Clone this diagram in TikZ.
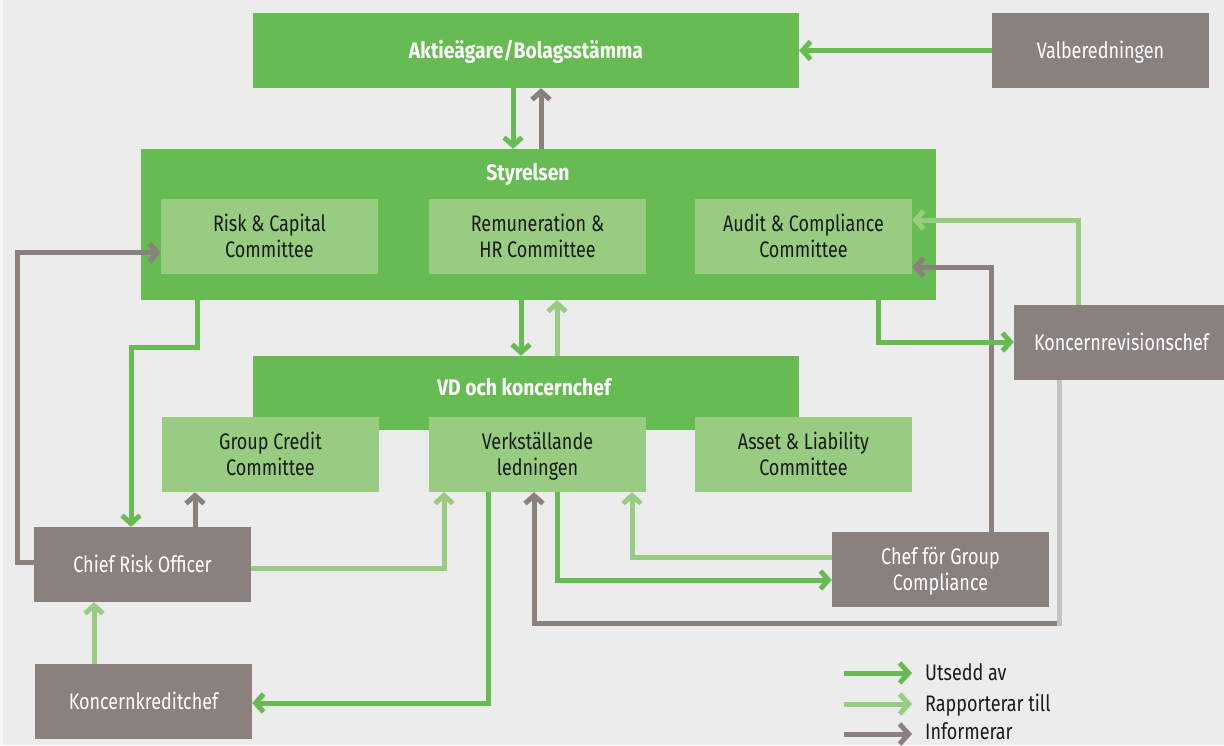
\documentclass[tikz,border=0pt]{standalone}
\usepackage{fontspec}
\setmainfont{Fira Sans}[FakeStretch=0.8]
\newfontfamily\titlefont{Fira Sans}[FakeStretch=0.86]
\usetikzlibrary{arrows.meta}
\newcommand\mystrut{\rule[-5pt]{0pt}{25.5pt}}
\definecolor{bg}{HTML}{EBECEB}
\definecolor{dgreen}{HTML}{66BC52}
\definecolor{lgreen}{HTML}{97CC81}
\definecolor{greybox}{HTML}{8A817E}
\definecolor{lgrey}{HTML}{C2C2C2}
\definecolor{txt}{HTML}{1A1A1A}
\tikzset{
  box/.style={inner sep=0pt, minimum width=217pt, minimum height=75pt, align=center,
    font=\fontsize{22.5}{26}\selectfont},
  mainbox/.style={box, fill=dgreen},
  subbox/.style={box, fill=lgreen, text=txt},
  greyb/.style={box, fill=greybox, text=white},
  title/.style={inner sep=0pt, text=white, font=\titlefont\fontsize{22.5}{26}\selectfont\bfseries},
  conn/.style={line width=5pt, -{Straight Barb[length=8pt,width=18pt]}},
  app/.style={conn, draw=dgreen},
  rep/.style={conn, draw=lgreen},
  inf/.style={conn, draw=greybox},
  leg/.style={line width=5pt, -{Straight Barb[length=9pt,width=20pt]}},
  legtext/.style={anchor=west, inner sep=0pt, text=txt, font=\fontsize{22.5}{26}\selectfont},
}
\begin{document}
\begin{tikzpicture}[x=1pt,y=-1pt]
\fill[bg] (0,0) rectangle (1224,745);
\fill[white!60!bg] (0,0) rectangle (3,745);
\useasboundingbox (0,0) rectangle (1224,745);
% top
\node[mainbox, minimum width=546pt, minimum height=75pt] (aga) at (526,50.5) {};
\node[title] (agat) at (526,51) {\mystrut Aktieägare/Bolagsstämma};
\node[greyb] (val) at (1100.5,50.5) {\mystrut Valberedningen};
% Styrelsen
\node[mainbox, minimum width=795pt, minimum height=151pt] (sty) at (538.5,224.5) {};
\node[title] (styt) at (528,173) {\mystrut Styrelsen};
\node[subbox] (rcc) at (269.5,236.5) {\mystrut Risk \& Capital\\\mystrut Committee};
\node[subbox] (rem) at (537.5,236.5) {\mystrut Remuneration \&\\\mystrut HR Committee};
\node[subbox] (acc) at (803.5,236.5) {\mystrut Audit \& Compliance\\\mystrut Committee};
% VD
\node[mainbox, minimum width=546pt, minimum height=74pt] (vd) at (526,393) {};
\node[title] (vdt) at (524,388) {\mystrut VD och koncernchef};
\node[subbox] (gcc) at (270.5,454.5) {\mystrut Group Credit\\\mystrut Committee};
\node[subbox] (verk) at (537.5,454.5) {\mystrut Verkställande\\\mystrut ledningen};
\node[subbox] (alc) at (803.5,454.5) {\mystrut Asset \& Liability\\\mystrut Committee};
% grey boxes
\node[greyb] (cro) at (142.5,564.5) {\mystrut Chief Risk Officer};
\node[greyb] (kkc) at (143.5,701.5) {\mystrut Koncernkreditchef};
\node[greyb, minimum width=210pt] (krc) at (1119,342.5) {\mystrut\hspace*{5pt}Koncernrevisionschef};
\node[greyb] (cgc) at (940.5,569.5) {\mystrut Chef för Group\\\mystrut Compliance};
% coordinates
\coordinate (k1) at (513,0);
\coordinate (k2) at (541,0);
\coordinate (m1) at (521,0);
\coordinate (m2) at (557,0);
\coordinate (L1) at (17,400);
\coordinate (b1) at (197,347);
\coordinate (b2) at (131,347);
\coordinate (c3) at (195,0);
\coordinate (c4) at (444,0);
\coordinate (c5) at (94,0);
\coordinate (c6) at (488,0);
\coordinate (d1) at (1059,623);
\coordinate (d2) at (534,623);
\coordinate (e1) at (557,580);
\coordinate (f1) at (632,557);
\coordinate (h1) at (991,267);
\coordinate (i1) at (1078,220);
\coordinate (j1) at (878,342);
% connectors
\draw[app] (val.west) -- (aga.east);
\draw[app] (aga.south -| k1) -- (sty.north -| k1);
\draw[inf] (sty.north -| k2) -- (aga.south -| k2);
\draw[app] (sty.south -| m1) -- (vd.north -| m1);
\draw[rep] (vd.north -| m2) -- (sty.south -| m2);
\draw[inf] ([yshift=2.5pt]cro.west) -| (L1) |- ([yshift=-16pt]rcc.west);
\draw[app] (sty.south -| b1) -- (b1) -- (b2) -- (cro.north -| b2);
\draw[inf] (cro.north -| c3) -- (gcc.south -| c3);
\draw[rep] ([yshift=-3.5pt]cro.east) -| (verk.south -| c4);
\draw[rep] (kkc.north -| c5) -- (cro.south -| c5);
\draw[app] (verk.south -| c6) |- ([yshift=-1.5pt]kkc.east);
\draw[inf] (krc.south -| d1) -- (d1) -- (d2) -- (verk.south -| d2);
\draw[line width=5pt, lgrey] (krc.south -| d1) -- ([yshift=-2.5pt]d1);
\draw[app] (verk.south -| e1) -- (e1) -- (cgc.west |- e1);
\draw[rep] (cgc.west |- f1) -- (f1) -- (verk.south -| f1);
\draw[inf] (cgc.north -| h1) -- (h1) -- (acc.east |- h1);
\draw[rep] (krc.north -| i1) -- (i1) -- (acc.east |- i1);
\draw[app] (sty.south -| j1) -- (j1) -- (krc.west |- j1);
% legend
\coordinate (la1) at (844,673);
\coordinate (la2) at (912,673);
\coordinate (lb1) at (844,704);
\coordinate (lb2) at (912,704);
\coordinate (lc1) at (844,734);
\coordinate (lc2) at (912,734);
\draw[leg, dgreen] (la1) -- (la2);
\draw[leg, lgreen] (lb1) -- (lb2);
\draw[leg, greybox] (lc1) -- (lc2);
\node[legtext] (lta) at (925,673) {\mystrut Utsedd av};
\node[legtext] (ltb) at (925,704) {\mystrut Rapporterar till};
\node[legtext] (ltc) at (925,732) {\mystrut Informerar};
\end{tikzpicture}
\end{document}
